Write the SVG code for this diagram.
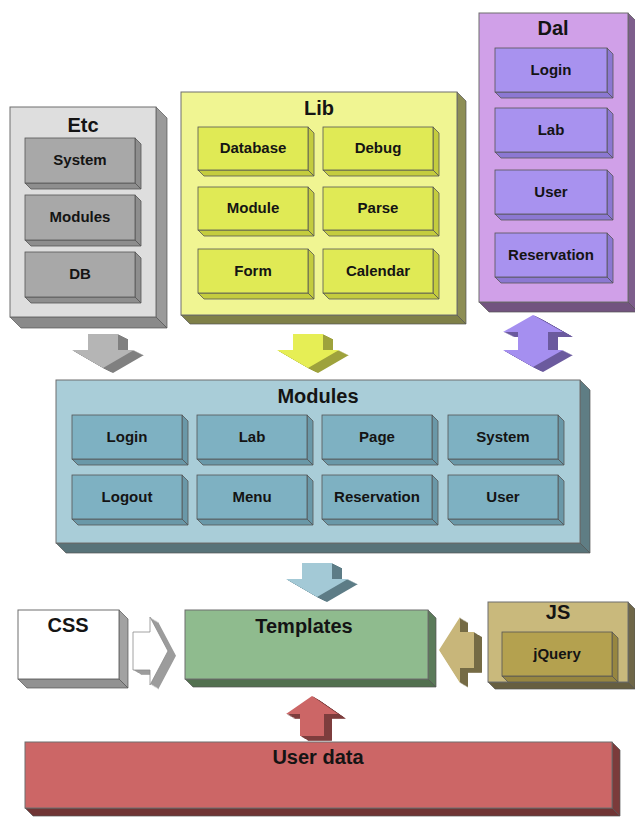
<svg xmlns="http://www.w3.org/2000/svg" xmlns:xlink="http://www.w3.org/1999/xlink" width="635" height="817" viewBox="0 0 635 817">
<style>
text{font-family:"Liberation Sans",Arial,sans-serif;font-weight:bold;text-anchor:middle;fill:#141414}
.t{font-size:20px}
.l{font-size:15px}
.f{stroke:#6e6e6e;stroke-width:1}
.s{stroke:#555;stroke-width:0.7}
.i{stroke:#555;stroke-width:0.8}
</style>
<defs>
<path id="aDown" d="M0,0 H30 V16 H46 L15,34 L-16,16 H0 Z"/>
<path id="aUp" d="M0,0 L26,18 H12 V40 H-12 V18 H-26 Z"/>
<path id="aRight" d="M0,0 H17 V-15 L35,19 L17,53 V38 H0 Z"/>
<path id="aLeft" d="M0,0 L21,-33 V-18 H35 V18 H21 V33 Z"/>
<path id="aBoth" d="M0,0 L30,17 H15 V35 H30 L0,52 L-30,35 H-15 V17 H-30 Z"/>
<g id="sDown"><use xlink:href="#aDown" x="1" y="0.5"/><use xlink:href="#aDown" x="2" y="1"/><use xlink:href="#aDown" x="3" y="1.5"/><use xlink:href="#aDown" x="4" y="2"/><use xlink:href="#aDown" x="5" y="2.5"/><use xlink:href="#aDown" x="6" y="3"/><use xlink:href="#aDown" x="7" y="3.5"/><use xlink:href="#aDown" x="8" y="4"/><use xlink:href="#aDown" x="9" y="4.5"/><use xlink:href="#aDown" x="10" y="5"/></g>
<g id="sBoth"><use xlink:href="#aBoth" x="1" y="0.5"/><use xlink:href="#aBoth" x="2" y="1"/><use xlink:href="#aBoth" x="3" y="1.5"/><use xlink:href="#aBoth" x="4" y="2"/><use xlink:href="#aBoth" x="5" y="2.5"/><use xlink:href="#aBoth" x="6" y="3"/><use xlink:href="#aBoth" x="7" y="3.5"/><use xlink:href="#aBoth" x="8" y="4"/><use xlink:href="#aBoth" x="9" y="4.5"/><use xlink:href="#aBoth" x="10" y="5"/></g>
<g id="sRight"><use xlink:href="#aRight" x="1" y="0.6"/><use xlink:href="#aRight" x="2" y="1.2"/><use xlink:href="#aRight" x="3" y="1.8"/><use xlink:href="#aRight" x="4" y="2.4"/><use xlink:href="#aRight" x="5" y="3"/><use xlink:href="#aRight" x="6" y="3.6"/><use xlink:href="#aRight" x="7" y="4.2"/><use xlink:href="#aRight" x="8" y="4.8"/></g>
<g id="sLeft"><use xlink:href="#aLeft" x="1" y="0.6"/><use xlink:href="#aLeft" x="2" y="1.2"/><use xlink:href="#aLeft" x="3" y="1.8"/><use xlink:href="#aLeft" x="4" y="2.4"/><use xlink:href="#aLeft" x="5" y="3"/><use xlink:href="#aLeft" x="6" y="3.6"/><use xlink:href="#aLeft" x="7" y="4.2"/><use xlink:href="#aLeft" x="8" y="4.8"/></g>
<g id="sUp"><use xlink:href="#aUp" x="1" y="0.6"/><use xlink:href="#aUp" x="2" y="1.2"/><use xlink:href="#aUp" x="3" y="1.8"/><use xlink:href="#aUp" x="4" y="2.4"/><use xlink:href="#aUp" x="5" y="3"/><use xlink:href="#aUp" x="6" y="3.6"/><use xlink:href="#aUp" x="7" y="4.2"/><use xlink:href="#aUp" x="8" y="4.8"/></g>
</defs>

<g id="connectors">
  <g id="arrow-etc" transform="translate(88,334)">
    <use xlink:href="#sDown" fill="#808080"/>
    <use xlink:href="#aDown" fill="#b5b5b5"/>
  </g>
  <g id="arrow-lib" transform="translate(293,334)">
    <use xlink:href="#sDown" fill="#9ea23c"/>
    <use xlink:href="#aDown" fill="#e6ee55"/>
  </g>
  <g id="arrow-dal" transform="translate(533,315)">
    <use xlink:href="#sBoth" fill="#6b5a9e"/>
    <use xlink:href="#aBoth" fill="#a58ff0"/>
  </g>
  <g id="arrow-modules" transform="translate(302,563)">
    <use xlink:href="#sDown" fill="#5d7c86"/>
    <use xlink:href="#aDown" fill="#a3c9d6"/>
  </g>
  <g id="arrow-css" transform="translate(133,632)">
    <use xlink:href="#sRight" fill="#9c9c9c"/>
    <use xlink:href="#aRight" fill="#ffffff" stroke="#8a8a8a" stroke-width="0.8"/>
  </g>
  <g id="arrow-js" transform="translate(439,650)">
    <use xlink:href="#sLeft" fill="#756b45"/>
    <use xlink:href="#aLeft" fill="#c8b67a"/>
  </g>
  <g id="arrow-userdata" transform="translate(312,696)">
    <use xlink:href="#sUp" fill="#7d3d3d"/>
    <use xlink:href="#aUp" fill="#cc6666"/>
  </g>
</g>

<g id="etc">
  <polygon class="s" fill="#9a9a9a" points="156,107 167,118 167,328 156,317"/>
  <polygon class="s" fill="#8a8a8a" points="10,317 156,317 167,328 21,328"/>
  <rect class="f" fill="#dedede" x="10" y="107" width="146" height="210"/>
  <text class="t" x="83" y="132">Etc</text>
  <g id="etc-system">
    <polygon class="i" fill="#8e8e8e" points="135,138 141,144 141,189 135,183"/>
    <polygon class="i" fill="#8e8e8e" points="25,183 135,183 141,189 31,189"/>
    <rect class="i" fill="#a8a8a8" x="25" y="138" width="110" height="45"/>
    <text class="l" x="80" y="165">System</text>
  </g>
  <g id="etc-modules">
    <polygon class="i" fill="#8e8e8e" points="135,195 141,201 141,246 135,240"/>
    <polygon class="i" fill="#8e8e8e" points="25,240 135,240 141,246 31,246"/>
    <rect class="i" fill="#a8a8a8" x="25" y="195" width="110" height="45"/>
    <text class="l" x="80" y="222">Modules</text>
  </g>
  <g id="etc-db">
    <polygon class="i" fill="#8e8e8e" points="135,252 141,258 141,303 135,297"/>
    <polygon class="i" fill="#8e8e8e" points="25,297 135,297 141,303 31,303"/>
    <rect class="i" fill="#a8a8a8" x="25" y="252" width="110" height="45"/>
    <text class="l" x="80" y="279">DB</text>
  </g>
</g>

<g id="lib">
  <polygon class="s" fill="#8d8e55" points="457,92 466,101 466,324 457,315"/>
  <polygon class="s" fill="#7f8048" points="181,315 457,315 466,324 190,324"/>
  <rect class="f" fill="#f0f592" x="181" y="92" width="276" height="223"/>
  <text class="t" x="319" y="115">Lib</text>
  <g id="lib-database">
    <polygon class="i" fill="#c4cc3e" points="308,127 314,133 314,176 308,170"/>
    <polygon class="i" fill="#c4cc3e" points="198,170 308,170 314,176 204,176"/>
    <rect class="i" fill="#e0ea55" x="198" y="127" width="110" height="43"/>
    <text class="l" x="253" y="153">Database</text>
  </g>
  <g id="lib-debug">
    <polygon class="i" fill="#c4cc3e" points="433,127 439,133 439,176 433,170"/>
    <polygon class="i" fill="#c4cc3e" points="323,170 433,170 439,176 329,176"/>
    <rect class="i" fill="#e0ea55" x="323" y="127" width="110" height="43"/>
    <text class="l" x="378" y="153">Debug</text>
  </g>
  <g id="lib-module">
    <polygon class="i" fill="#c4cc3e" points="308,187 314,193 314,236 308,230"/>
    <polygon class="i" fill="#c4cc3e" points="198,230 308,230 314,236 204,236"/>
    <rect class="i" fill="#e0ea55" x="198" y="187" width="110" height="43"/>
    <text class="l" x="253" y="213">Module</text>
  </g>
  <g id="lib-parse">
    <polygon class="i" fill="#c4cc3e" points="433,187 439,193 439,236 433,230"/>
    <polygon class="i" fill="#c4cc3e" points="323,230 433,230 439,236 329,236"/>
    <rect class="i" fill="#e0ea55" x="323" y="187" width="110" height="43"/>
    <text class="l" x="378" y="213">Parse</text>
  </g>
  <g id="lib-form">
    <polygon class="i" fill="#c4cc3e" points="308,249 314,255 314,299 308,293"/>
    <polygon class="i" fill="#c4cc3e" points="198,293 308,293 314,299 204,299"/>
    <rect class="i" fill="#e0ea55" x="198" y="249" width="110" height="44"/>
    <text class="l" x="253" y="276">Form</text>
  </g>
  <g id="lib-calendar">
    <polygon class="i" fill="#c4cc3e" points="433,249 439,255 439,299 433,293"/>
    <polygon class="i" fill="#c4cc3e" points="323,293 433,293 439,299 329,299"/>
    <rect class="i" fill="#e0ea55" x="323" y="249" width="110" height="44"/>
    <text class="l" x="378" y="276">Calendar</text>
  </g>
</g>

<g id="dal">
  <polygon class="s" fill="#7e5e8c" points="628,13 638,23 638,312 628,302"/>
  <polygon class="s" fill="#72547f" points="479,302 628,302 638,312 489,312"/>
  <rect class="f" fill="#d0a0e8" x="479" y="13" width="149" height="289"/>
  <text class="t" x="553" y="35">Dal</text>
  <g id="dal-login">
    <polygon class="i" fill="#8c78d2" points="607,48 613,54 613,98 607,92"/>
    <polygon class="i" fill="#8c78d2" points="495,92 607,92 613,98 501,98"/>
    <rect class="i" fill="#a892ef" x="495" y="48" width="112" height="44"/>
    <text class="l" x="551" y="75">Login</text>
  </g>
  <g id="dal-lab">
    <polygon class="i" fill="#8c78d2" points="607,108 613,114 613,158 607,152"/>
    <polygon class="i" fill="#8c78d2" points="495,152 607,152 613,158 501,158"/>
    <rect class="i" fill="#a892ef" x="495" y="108" width="112" height="44"/>
    <text class="l" x="551" y="135">Lab</text>
  </g>
  <g id="dal-user">
    <polygon class="i" fill="#8c78d2" points="607,170 613,176 613,220 607,214"/>
    <polygon class="i" fill="#8c78d2" points="495,214 607,214 613,220 501,220"/>
    <rect class="i" fill="#a892ef" x="495" y="170" width="112" height="44"/>
    <text class="l" x="551" y="197">User</text>
  </g>
  <g id="dal-reservation">
    <polygon class="i" fill="#8c78d2" points="607,233 613,239 613,283 607,277"/>
    <polygon class="i" fill="#8c78d2" points="495,277 607,277 613,283 501,283"/>
    <rect class="i" fill="#a892ef" x="495" y="233" width="112" height="44"/>
    <text class="l" x="551" y="260">Reservation</text>
  </g>
</g>

<g id="modules">
  <polygon class="s" fill="#5f7d84" points="580,380 590,390 590,553 580,543"/>
  <polygon class="s" fill="#587379" points="56,543 580,543 590,553 66,553"/>
  <rect class="f" fill="#a9cdd8" x="56" y="380" width="524" height="163"/>
  <text class="t" x="318" y="403">Modules</text>
  <g id="mod-login">
    <polygon class="i" fill="#6a98a8" points="182,415 188,421 188,465 182,459"/>
    <polygon class="i" fill="#6a98a8" points="72,459 182,459 188,465 78,465"/>
    <rect class="i" fill="#7eb1c2" x="72" y="415" width="110" height="44"/>
    <text class="l" x="127" y="442">Login</text>
  </g>
  <g id="mod-lab">
    <polygon class="i" fill="#6a98a8" points="307,415 313,421 313,465 307,459"/>
    <polygon class="i" fill="#6a98a8" points="197,459 307,459 313,465 203,465"/>
    <rect class="i" fill="#7eb1c2" x="197" y="415" width="110" height="44"/>
    <text class="l" x="252" y="442">Lab</text>
  </g>
  <g id="mod-page">
    <polygon class="i" fill="#6a98a8" points="432,415 438,421 438,465 432,459"/>
    <polygon class="i" fill="#6a98a8" points="322,459 432,459 438,465 328,465"/>
    <rect class="i" fill="#7eb1c2" x="322" y="415" width="110" height="44"/>
    <text class="l" x="377" y="442">Page</text>
  </g>
  <g id="mod-system">
    <polygon class="i" fill="#6a98a8" points="558,415 564,421 564,465 558,459"/>
    <polygon class="i" fill="#6a98a8" points="448,459 558,459 564,465 454,465"/>
    <rect class="i" fill="#7eb1c2" x="448" y="415" width="110" height="44"/>
    <text class="l" x="503" y="442">System</text>
  </g>
  <g id="mod-logout">
    <polygon class="i" fill="#6a98a8" points="182,475 188,481 188,525 182,519"/>
    <polygon class="i" fill="#6a98a8" points="72,519 182,519 188,525 78,525"/>
    <rect class="i" fill="#7eb1c2" x="72" y="475" width="110" height="44"/>
    <text class="l" x="127" y="502">Logout</text>
  </g>
  <g id="mod-menu">
    <polygon class="i" fill="#6a98a8" points="307,475 313,481 313,525 307,519"/>
    <polygon class="i" fill="#6a98a8" points="197,519 307,519 313,525 203,525"/>
    <rect class="i" fill="#7eb1c2" x="197" y="475" width="110" height="44"/>
    <text class="l" x="252" y="502">Menu</text>
  </g>
  <g id="mod-reservation">
    <polygon class="i" fill="#6a98a8" points="432,475 438,481 438,525 432,519"/>
    <polygon class="i" fill="#6a98a8" points="322,519 432,519 438,525 328,525"/>
    <rect class="i" fill="#7eb1c2" x="322" y="475" width="110" height="44"/>
    <text class="l" x="377" y="502">Reservation</text>
  </g>
  <g id="mod-user">
    <polygon class="i" fill="#6a98a8" points="558,475 564,481 564,525 558,519"/>
    <polygon class="i" fill="#6a98a8" points="448,519 558,519 564,525 454,525"/>
    <rect class="i" fill="#7eb1c2" x="448" y="475" width="110" height="44"/>
    <text class="l" x="503" y="502">User</text>
  </g>
</g>

<g id="css">
  <polygon class="s" fill="#a2a2a2" points="119,610 128,619 128,688 119,679"/>
  <polygon class="s" fill="#929292" points="18,679 119,679 128,688 27,688"/>
  <rect class="f" fill="#ffffff" x="18" y="610" width="101" height="69"/>
  <text class="t" x="68" y="632">CSS</text>
</g>

<g id="templates">
  <polygon class="s" fill="#5b7b5a" points="428,610 436,618 436,687 428,679"/>
  <polygon class="s" fill="#52704f" points="185,679 428,679 436,687 193,687"/>
  <rect class="f" fill="#8fbb8e" x="185" y="610" width="243" height="69"/>
  <text class="t" x="304" y="633">Templates</text>
</g>

<g id="js">
  <polygon class="s" fill="#6f6748" points="628,602 635,609 635,689 628,682"/>
  <polygon class="s" fill="#665e40" points="488,682 628,682 635,689 495,689"/>
  <rect class="f" fill="#c9b97c" x="488" y="602" width="140" height="80"/>
  <text class="t" x="558" y="619">JS</text>
  <g id="js-jquery">
    <polygon class="i" fill="#978640" points="612,632 618,638 618,682 612,676"/>
    <polygon class="i" fill="#978640" points="502,676 612,676 618,682 508,682"/>
    <rect class="i" fill="#b4a14f" x="502" y="632" width="110" height="44"/>
    <text class="l" x="557" y="659">jQuery</text>
  </g>
</g>

<g id="userdata">
  <polygon class="s" fill="#7b3b3b" points="612,742 620,750 620,816 612,808"/>
  <polygon class="s" fill="#703535" points="25,808 612,808 620,816 33,816"/>
  <rect class="f" fill="#cc6666" x="25" y="742" width="587" height="66"/>
  <text class="t" x="318" y="764">User data</text>
</g>
</svg>
